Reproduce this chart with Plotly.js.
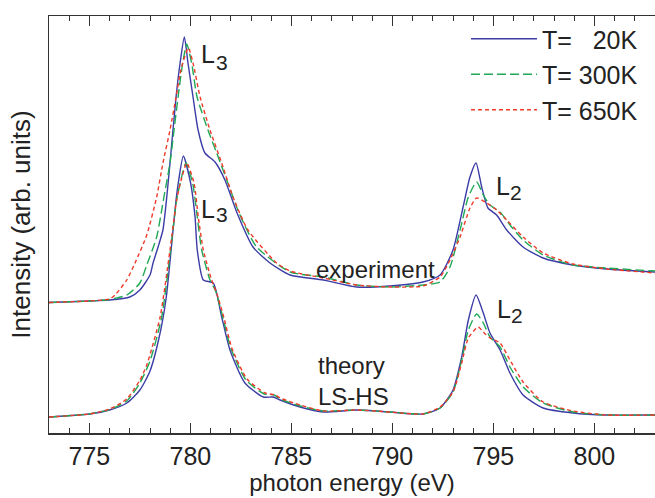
<!DOCTYPE html>
<html><head><meta charset="utf-8">
<script src="https://cdn.plot.ly/plotly-3.0.1.min.js"></script>
<style>html,body{margin:0;padding:0;background:#fff}</style>
</head><body>
<div id="chart" style="width:655px;height:498px"></div>
<script>
// legend labels
const seriesNames = ['T=\u00a0\u00a0\u00a020K', 'T= 300K', 'T= 650K'];

// experiment, T = 20K
const expX20 = [773,775,776,777,777.5,778,778.15,778.4,778.64,778.83,778.99,779.29,779.49,779.7,779.88,780.13,780.38,780.72,781.22,781.71,782.31,783.1,783.94,784.93,786.58,788.23,789.88,791.51,792.36,793.0,793.5,793.84,794.14,794.42,794.73,795.16,795.66,796.47,797.46,798.94,800.61,803];
const expY20 = [130.5,132,133,136,143,158,170,186,203,236,270,336,370,396,370,336,303,280,271,253,220,186,170,158,153,146,147,151,158,183,226,256,270,246,225,218,203,186,175,168,164,161];
// experiment, T = 300K
const expX300 = [773,775,776,776.85,777.5,777.84,778.33,778.69,778.99,779.19,779.39,779.62,779.82,780.06,780.33,780.87,781.3,781.8,782.41,783.28,784.93,786.58,788.23,789.88,791.51,792.36,792.85,793.35,793.76,794.17,794.5,794.83,795.33,795.82,796.47,797.46,798.94,800.61,803];
const expY300 = [130.5,132,133.5,138,150,168,196,236,270,303,336,370,389,370,336,303,280,253,220,186,161,156,148,146,148,151,166,203,236,251,238,228,221,208,193,178,168,165,162];
// experiment, T = 650K
const expX650 = [773,775,776,776.27,776.85,777.26,777.84,778.33,778.64,778.99,779.29,779.55,779.9,780.13,780.48,780.97,781.55,782.11,782.85,784.27,784.93,786.58,788.23,789.88,791.51,792.36,792.85,793.35,793.84,794.17,794.67,795.16,795.66,796.47,797.46,798.94,800.61,803];
const expY650 = [130.5,132,134,138,153,170,198,236,270,303,336,365,385,370,336,303,270,236,203,170,162,155,148,146,147,156,173,196,225,235,230,223,213,196,180,169,164,160];

// theory LS-HS, T = 20K
const thX20 = [773,775,776,776.85,777.5,778,778.5,778.8,779.07,779.29,779.4,779.65,780.01,780.23,780.34,780.64,781.13,781.55,781.96,782.7,783.61,784.1,784.44,785.43,786.58,788.23,789.88,791.51,792.36,793.0,793.43,793.76,794.14,794.5,794.83,795.33,795.82,796.47,797.46,798.94,800.61,803];
const thY20 = [16,19,23,30,43,62,100,135,188,233,250,277,250,216,183,153,150,116,83,50,36,36,33,26,21,23,21,19,25,43,76,113,138,120,100,83,60,38,25,20,18,18];
// theory LS-HS, T = 300K
const thX300 = [773,775,776,776.85,777.5,778,778.58,779.02,779.32,779.55,779.78,780.11,780.34,780.56,780.97,781.25,781.6,782.0,782.75,783.65,784.15,784.44,785.43,786.58,788.23,789.88,791.51,792.36,793.0,793.43,793.76,794.17,794.5,794.83,795.33,795.82,796.47,797.46,798.94,800.61,803];
const thY300 = [16,19,23.5,32,50,72,116,183,233,255,270,250,216,183,153,142,116,85,53,39,38,34,27,22,23,21,19,25,41,73,103,119,110,96,86,66,46,30,21,18,18];
// theory LS-HS, T = 650K
const thX650 = [773,775,776,776.85,777.5,777.84,778.5,778.99,779.32,779.57,779.82,780.18,780.39,780.64,781.05,781.3,781.65,782.05,782.8,783.7,784.2,784.44,785.43,786.58,788.23,789.88,791.51,792.36,793.0,793.43,793.76,794.25,794.5,794.83,795.33,795.82,796.47,797.46,798.94,800.61,803];
const thY650 = [16,19,24,34,53,68,116,183,233,255,270,250,216,183,153,140,116,85,54,40,38,35,28,22,23,21,19,26,41,70,95,106,101,95,90,73,51,31,22,18,18];

const tickVals = [775, 780, 785, 790, 795, 800];
const tickText = ['775', '780', '785', '790', '795', '800'];

const colors = ['#3c3ca6', '#1fa855', '#ef3a2a'];
const dashes = ['solid', '9px,4px', '4px,3px'];
const FONT = 'Liberation Sans, Arial, sans-serif';

function tr(x, y, i, show) {
  return {
    x: x, y: y, type: 'scatter', mode: 'lines',
    name: seriesNames[i], legendgroup: 'g' + i, showlegend: show,
    line: {color: colors[i], width: 1.4, dash: dashes[i], shape: 'spline', smoothing: 0.6},
    hoverinfo: 'skip'
  };
}

const data = [
  tr(expX20, expY20, 0, true),
  tr(expX300, expY300, 1, true),
  tr(expX650, expY650, 2, true),
  tr(thX20, thY20, 0, false),
  tr(thX300, thY300, 1, false),
  tr(thX650, thY650, 2, false)
];

const txt = '#222';
function ann(x, y, text, size, xanchor) {
  return {x: x, y: y, xref: 'x', yref: 'y', text: text, showarrow: false,
    xanchor: xanchor || 'center', yanchor: 'middle', align: 'left',
    font: {family: FONT, size: size, color: txt}};
}

const layout = {
  width: 655, height: 498,
  margin: {l: 49, r: 0, t: 16, b: 65},
  paper_bgcolor: '#fff', plot_bgcolor: '#fff',
  font: {family: FONT, size: 25, color: txt},
  showlegend: true,
  legend: {
    x: (466 - 49) / 606, y: 1.0, xanchor: 'left', yanchor: 'top',
    bgcolor: 'rgba(0,0,0,0)', borderwidth: 0,
    font: {family: FONT, size: 25, color: txt},
    itemwidth: 66, tracegroupgap: 0
  },
  xaxis: {
    range: [773, 803], showgrid: false, zeroline: false,
    showline: true, linecolor: '#333', linewidth: 1.5, mirror: 'ticks',
    ticks: 'inside', ticklen: 10, tickwidth: 1.2, tickcolor: '#333',
    tickvals: tickVals, ticktext: tickText,
    tickfont: {family: FONT, size: 25, color: txt},
    minor: {dtick: 1, ticks: 'inside', ticklen: 5, tickwidth: 1, tickcolor: '#333', showgrid: false},
    title: {text: 'photon energy (eV)', font: {family: FONT, size: 24, color: txt}, standoff: 3}
  },
  yaxis: {
    range: [0, 417], showgrid: false, zeroline: false,
    showline: true, linecolor: '#333', linewidth: 1.5, mirror: false,
    ticks: '', showticklabels: false,
    title: {text: 'Intensity (arb. units)', font: {family: FONT, size: 26, color: txt}, standoff: 9}
  },
  annotations: [
    ann(780.87, 379, 'L', 25), ann(781.54, 371, '3', 21),
    ann(780.87, 224, 'L', 25), ann(781.54, 219, '3', 21),
    ann(795.48, 247, 'L', 25), ann(796.13, 241, '2', 21),
    ann(795.52, 124, 'L', 25), ann(796.15, 117.5, '2', 21),
    ann(789.16, 164, 'experiment', 24),
    ann(786.22, 52, 'theory<br>LS-HS', 24, 'left')
  ]
};

Plotly.newPlot('chart', data, layout, {staticPlot: true, displayModeBar: false});
</script>
</body></html>
